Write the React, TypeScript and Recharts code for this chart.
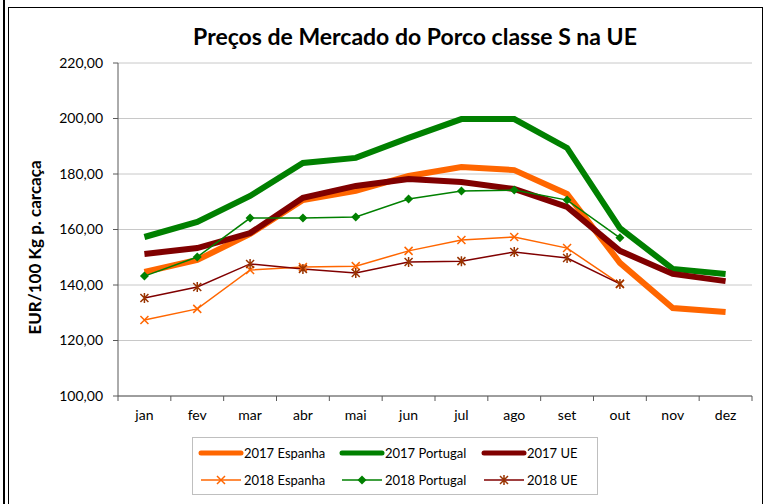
import { LineChart, Line, XAxis, YAxis, CartesianGrid } from 'recharts';

const months = ['jan', 'fev', 'mar', 'abr', 'mai', 'jun', 'jul', 'ago', 'set', 'out', 'nov', 'dez'];

const espanha2017 = [144.7, 149.0, 158.4, 170.6, 173.9, 179.3, 182.5, 181.4, 172.8, 148.0, 131.7, 130.3];
const portugal2017 = [157.3, 162.7, 172.1, 184.0, 185.8, 193.0, 199.8, 199.8, 189.4, 160.5, 145.8, 144.0];
const ue2017 = [151.2, 153.3, 158.7, 171.4, 175.7, 178.2, 177.1, 174.6, 168.1, 152.3, 144.0, 141.4];
const espanha2018 = [127.4, 131.4, 145.4, 146.5, 146.8, 152.3, 156.2, 157.3, 153.3, 140.4];
const portugal2018 = [143.2, 150.1, 164.1, 164.1, 164.5, 171.0, 173.9, 174.2, 170.6, 157.0];
const ue2018 = [135.3, 139.3, 147.6, 145.8, 144.3, 148.3, 148.6, 151.9, 149.7, 140.4];

const yTicks = [100, 120, 140, 160, 180, 200, 220];

const data = months.map((m, i) => ({
  mes: m,
  esp17: espanha2017[i],
  por17: portugal2017[i],
  ue17: ue2017[i],
  esp18: espanha2018[i] ?? null,
  por18: portugal2018[i] ?? null,
  ue18: ue2018[i] ?? null,
}));

const FONT = 'Lato, "Liberation Sans", sans-serif';
const ORANGE = '#FF6600';
const GREEN = '#008000';
const DARKRED = '#800000';
const STAR = '#993300';

const W = 768;
const H = 504;
const M = { top: 63, right: 16, left: 58, bottom: 78 };
// width of one month slot inside the plot area
const BAND = (W - M.left - 60 - M.right) / months.length;

const CrossDot = (props: any) => {
  const { cx, cy, index } = props;
  if (cy == null || cx == null) return <g key={index} />;
  const s = 4;
  return (
    <path
      key={index}
      d={`M${cx - s},${cy - s}L${cx + s},${cy + s}M${cx - s},${cy + s}L${cx + s},${cy - s}`}
      stroke={ORANGE}
      strokeWidth={1.5}
    />
  );
};

const DiamondDot = (props: any) => {
  const { cx, cy, index } = props;
  if (cy == null || cx == null) return <g key={index} />;
  const s = 4.5;
  return (
    <path
      key={index}
      d={`M${cx},${cy - s}L${cx + s},${cy}L${cx},${cy + s}L${cx - s},${cy}Z`}
      fill={GREEN}
    />
  );
};

const StarDot = (props: any) => {
  const { cx, cy, index } = props;
  if (cy == null || cx == null) return <g key={index} />;
  const s = 4;
  return (
    <path
      key={index}
      d={`M${cx - s},${cy - s}L${cx + s},${cy + s}M${cx - s},${cy + s}L${cx + s},${cy - s}M${cx},${cy - s - 1}L${cx},${cy + s + 1}`}
      stroke={STAR}
      strokeWidth={1.5}
    />
  );
};

const MonthTick = (props: any) => {
  const { x, y, payload, index } = props;
  const half = BAND / 2;
  return (
    <g>
      <line x1={x - half} y1={y - 8} x2={x - half} y2={y - 3} stroke='#595959' />
      {index === months.length - 1 && (
        <line x1={x + half} y1={y - 8} x2={x + half} y2={y - 3} stroke='#595959' />
      )}
      <text x={x} y={y + 16} textAnchor='middle' fill='#000' fontSize={14} fontFamily={FONT}>
        {payload.value}
      </text>
    </g>
  );
};

const legendItems = [
  { name: '2017 Espanha', color: ORANGE, thick: true, dot: null },
  { name: '2017 Portugal', color: GREEN, thick: true, dot: null },
  { name: '2017 UE', color: DARKRED, thick: true, dot: null },
  { name: '2018 Espanha', color: ORANGE, thick: false, dot: CrossDot },
  { name: '2018 Portugal', color: GREEN, thick: false, dot: DiamondDot },
  { name: '2018 UE', color: DARKRED, thick: false, dot: StarDot },
];

const colX = [9, 150, 292];

function LegendBox() {
  return (
    <svg width={406} height={58} style={{ display: 'block' }}>
      <rect x={0.5} y={0.5} width={405} height={57} fill='#fff' stroke='#BFBFBF' />
      {legendItems.map((it, i) => {
        const x = colX[i % 3];
        const y = i < 3 ? 16 : 43;
        const Dot = it.dot as any;
        return (
          <g key={it.name}>
            <line
              x1={x}
              y1={y}
              x2={x + 40}
              y2={y}
              stroke={it.color}
              strokeWidth={it.thick ? 5 : 1.5}
              strokeLinecap={it.thick ? 'round' : 'butt'}
            />
            {Dot && <Dot cx={x + 20} cy={y} index={i} />}
            <text x={x + 43} y={y + 5} fontSize={13} fontFamily={FONT} fill='#000'>
              {it.name}
            </text>
          </g>
        );
      })}
    </svg>
  );
}

function App() {
  return (
    <div style={{ position: 'absolute', left: 0, top: 0, width: W, height: H, background: '#fff', fontFamily: FONT }}>
      <div style={{ position: 'absolute', left: 3, top: 0, width: 2, height: H, background: '#000' }} />
      <div
        style={{
          position: 'absolute',
          left: 8,
          top: 7,
          width: 755,
          height: H,
          border: '1px solid #000',
          borderBottom: 'none',
          boxSizing: 'border-box',
        }}
      />
      <div
        style={{
          position: 'absolute',
          left: 8,
          top: 21,
          width: 814,
          textAlign: 'center',
          fontWeight: 700,
          fontSize: 23,
          lineHeight: '30px',
          color: '#000',
        }}
      >
        Preços de Mercado do Porco classe S na UE
      </div>
      <div style={{ position: 'absolute', left: 0, top: 0 }}>
        <LineChart width={W} height={H} data={data} margin={M}>
          <CartesianGrid vertical={false} stroke='#C8C8C8' />
          <XAxis
            dataKey='mes'
            height={30}
            padding={{ left: BAND / 2, right: BAND / 2 }}
            axisLine={{ stroke: '#595959' }}
            tickLine={false}
            tick={<MonthTick />}
            interval={0}
          />
          <YAxis
            width={60}
            domain={[100, 220]}
            ticks={yTicks}
            interval={0}
            axisLine={{ stroke: '#595959' }}
            tickLine={{ stroke: '#595959' }}
            tickSize={5}
            tickMargin={10}
            tickFormatter={(v: number) => v.toFixed(2).replace('.', ',')}
            tick={{ fill: '#000', fontSize: 14, fontFamily: FONT }}
            label={({ viewBox }: any) => (
              <text
                x={viewBox.x - 24}
                y={viewBox.y + viewBox.height / 2 + 18}
                transform={`rotate(-90, ${viewBox.x - 24}, ${viewBox.y + viewBox.height / 2 + 18})`}
                textAnchor='middle'
                dominantBaseline='central'
                fontWeight={700}
                fontSize={17}
                fontFamily={FONT}
                fill='#000'
              >
                EUR/100 Kg p. carcaça
              </text>
            )}
          />
          <YAxis
            yAxisId='r'
            orientation='right'
            width={0}
            domain={[100, 220]}
            tick={false}
            tickLine={false}
            axisLine={{ stroke: '#A6A6A6' }}
          />
          <Line dataKey='esp17' name='2017 Espanha' stroke={ORANGE} strokeWidth={6} dot={false} isAnimationActive={false} />
          <Line dataKey='por17' name='2017 Portugal' stroke={GREEN} strokeWidth={6} dot={false} isAnimationActive={false} />
          <Line dataKey='ue17' name='2017 UE' stroke={DARKRED} strokeWidth={6} dot={false} isAnimationActive={false} />
          <Line dataKey='esp18' name='2018 Espanha' stroke={ORANGE} strokeWidth={1.5} dot={CrossDot} activeDot={false} isAnimationActive={false} />
          <Line dataKey='por18' name='2018 Portugal' stroke={GREEN} strokeWidth={1.5} dot={DiamondDot} activeDot={false} isAnimationActive={false} />
          <Line dataKey='ue18' name='2018 UE' stroke={DARKRED} strokeWidth={1.5} dot={StarDot} activeDot={false} isAnimationActive={false} />
        </LineChart>
      </div>
      <div style={{ position: 'absolute', left: 192, top: 437 }}>
        <LegendBox />
      </div>
    </div>
  );
}

export default App;
